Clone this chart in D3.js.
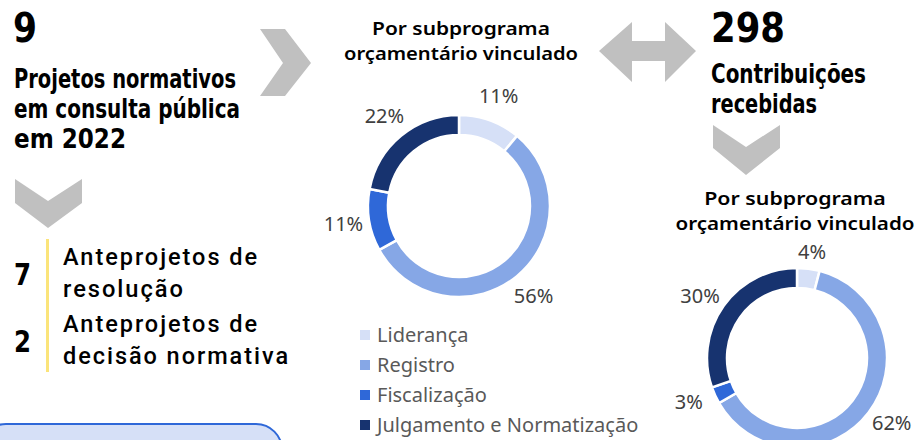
<!DOCTYPE html>
<html>
<head>
<meta charset="utf-8">
<script src="https://cdn.jsdelivr.net/npm/d3@7"></script>
<style>
  body { margin: 0; background: #fff; }
  svg { display: block; }
</style>
</head>
<body>
<script>
// data
var categories = ["Liderança", "Registro", "Fiscalização", "Julgamento e Normatização"];
var projectShares = [11, 56, 11, 22];
var contributionShares = [4, 62, 3, 30];
var colors = ["#d6e0f7", "#86a7e6", "#2f68d8", "#17336f"];
var totalProjects = "9";
var projectsTitle = ["Projetos normativos", "em consulta pública", "em 2022"];
var totalContributions = "298";
var contributionsTitle = ["Contribuições", "recebidas"];
var subTitle = ["Por subprograma", "orçamentário vinculado"];
var typeCounts = ["7", "2"];
var typeLabels = [["Anteprojetos de", "resolução"], ["Anteprojetos de", "decisão normativa"]];

var width = 919, height = 440;
var condensed = "'Liberation Sans Narrow', 'DejaVu Sans Condensed', 'Roboto Condensed', sans-serif";
var sans = "'Noto Sans', 'Open Sans', sans-serif";

var svg = d3.select("body").append("svg")
  .attr("width", width)
  .attr("height", height);

// grey arrows
var gray = "#c0c0c0";
svg.append("path")
  .attr("d", "M260,29 L285,29 L311,63 L285,96 L260,96 L283,63 Z")
  .attr("fill", gray);
svg.append("path")
  .attr("d", "M15,179 L48,201 L82,179 L82,203 L48,228 L15,203 Z")
  .attr("fill", gray);
svg.append("path")
  .attr("d", "M713,125 L746,147 L780,125 L780,148 L746,175 L713,148 Z")
  .attr("fill", gray);
svg.append("path")
  .attr("d", "M599,51 L632,22 L632,41 L665,41 L665,22 L696,51 L665,82 L665,61 L632,61 L632,82 Z")
  .attr("fill", gray);

// big numbers and titles
svg.append("text")
  .attr("x", 13).attr("y", 42)
  .attr("font-family", condensed).attr("font-weight", "bold").attr("font-size", 40)
  .attr("textLength", 24).attr("lengthAdjust", "spacingAndGlyphs")
  .text(totalProjects);

svg.selectAll(".ptitle")
  .data(projectsTitle)
  .enter()
  .append("text")
    .attr("class", "ptitle")
    .attr("x", 14)
    .attr("y", function(d, i) { return 88 + i * 30; })
    .attr("font-family", condensed).attr("font-weight", "bold").attr("font-size", 27)
    .attr("textLength", function(d, i) { return [222, 226, 112][i]; })
    .attr("lengthAdjust", "spacingAndGlyphs")
    .text(function(d) { return d; });

svg.append("text")
  .attr("x", 711).attr("y", 42)
  .attr("font-family", condensed).attr("font-weight", "bold").attr("font-size", 40)
  .attr("textLength", 74).attr("lengthAdjust", "spacingAndGlyphs")
  .text(totalContributions);

svg.selectAll(".ctitle")
  .data(contributionsTitle)
  .enter()
  .append("text")
    .attr("class", "ctitle")
    .attr("x", 711)
    .attr("y", function(d, i) { return 83 + i * 30; })
    .attr("font-family", condensed).attr("font-weight", "bold").attr("font-size", 27)
    .attr("textLength", function(d, i) { return [155, 106][i]; })
    .attr("lengthAdjust", "spacingAndGlyphs")
    .text(function(d) { return d; });

// project types
svg.append("rect")
  .attr("x", 46).attr("y", 239)
  .attr("width", 3).attr("height", 133)
  .attr("fill", "#fbe47a");

typeCounts.forEach(function(c, i) {
  svg.append("text")
    .attr("x", 14).attr("y", 285 + i * 67)
    .attr("font-family", condensed).attr("font-weight", "bold").attr("font-size", 31)
    .attr("textLength", 17).attr("lengthAdjust", "spacingAndGlyphs")
    .text(c);
  typeLabels[i].forEach(function(t, j) {
    svg.append("text")
      .attr("x", 63).attr("y", 265 + i * 67 + j * 32)
      .attr("font-family", "Roboto, sans-serif").attr("font-weight", 500).attr("font-size", 24)
      .attr("letter-spacing", 2)
      .attr("textLength", t.length > 16 ? 227 : (t.length > 10 ? 196 : 122))
      .attr("lengthAdjust", "spacingAndGlyphs")
      .text(t);
  });
});

// rounded box at the bottom
svg.append("rect")
  .attr("x", -20).attr("y", 424)
  .attr("width", 302).attr("height", 80)
  .attr("rx", 26)
  .attr("fill", "#d6e0f7")
  .attr("stroke", "#2f68d8")
  .attr("stroke-width", 2);

// subtitles
function subtitle(cx, y0, w) {
  svg.selectAll(null)
    .data(subTitle)
    .enter()
    .append("text")
      .attr("x", cx)
      .attr("y", function(d, i) { return y0 + i * 25; })
      .attr("text-anchor", "middle")
      .attr("font-family", sans).attr("font-weight", 600).attr("font-size", 18)
      .attr("textLength", function(d, i) { return i == 0 ? w * 0.76 : w; })
      .attr("lengthAdjust", "spacingAndGlyphs")
      .text(function(d) { return d; });
}
subtitle(461, 35, 234);
subtitle(795, 205, 239);

// donuts
var pie = d3.pie().sort(null).value(function(d) { return d; });

function donut(values, cx, cy, rOut, rIn, rLabel, push) {
  var g = svg.append("g").attr("transform", "translate(" + cx + "," + cy + ")");
  var arc = d3.arc().innerRadius(rIn).outerRadius(rOut);
  var labelArc = d3.arc().innerRadius(rLabel).outerRadius(rLabel);
  var arcs = pie(values);

  g.selectAll("path")
    .data(arcs)
    .enter()
    .append("path")
      .attr("d", arc)
      .attr("fill", function(d, i) { return colors[i]; })
      .attr("stroke", "#fff")
      .attr("stroke-width", 2.5);

  g.selectAll("text")
    .data(arcs)
    .enter()
    .append("text")
      .attr("transform", function(d) {
        var c = labelArc.centroid(d);
        // nudge sideways labels away from the ring
        return "translate(" + (c[0] + push * c[0] / rLabel) + "," + c[1] + ")";
      })
      .attr("text-anchor", "middle")
      .attr("dy", "0.35em")
      .attr("font-family", sans).attr("font-size", 20)
      .attr("fill", "#404040")
      .text(function(d) { return d.data + "%"; });
}
donut(projectShares, 459, 206, 91, 71, 117, 0);
donut(contributionShares, 797, 358, 90, 70, 107, 12);

// legend
var legend = svg.selectAll(".legend")
  .data(categories)
  .enter()
  .append("g")
    .attr("class", "legend")
    .attr("transform", function(d, i) { return "translate(360," + (335 + i * 30) + ")"; });
legend.append("rect")
  .attr("x", 0).attr("y", -5)
  .attr("width", 10).attr("height", 10)
  .attr("fill", function(d, i) { return colors[i]; });
legend.append("text")
  .attr("x", 17).attr("dy", "0.35em")
  .attr("font-family", sans).attr("font-size", 20)
  .attr("fill", "#595959")
  .text(function(d) { return d; });
</script>
</body>
</html>
